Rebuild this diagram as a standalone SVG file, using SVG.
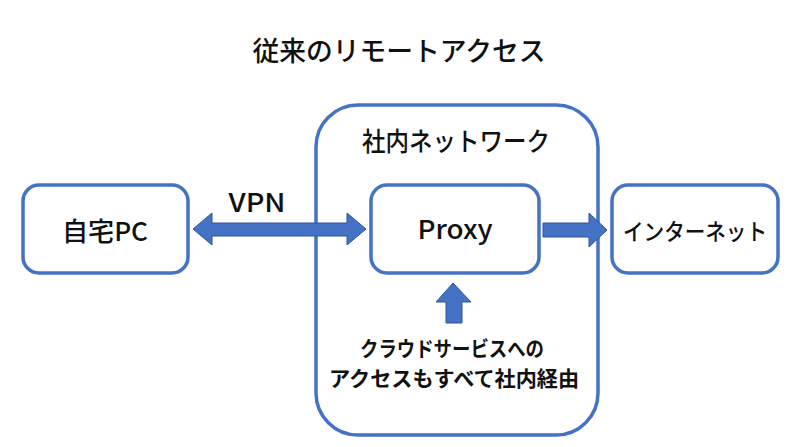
<svg xmlns="http://www.w3.org/2000/svg" width="800" height="447" viewBox="0 0 800 447">
<style>
.box{fill:#fff;stroke:#4472C4;stroke-width:3.5}
.arr{fill:#4472C4;stroke:#2F5597;stroke-width:1}
text{font-family:"Noto Sans CJK JP","Noto Sans",sans-serif;font-weight:500;fill:#111;text-anchor:middle}
.t{font-size:27px}
.l{font-size:26px}
.s{font-size:21px;font-weight:bold}
</style>
<rect width="800" height="447" fill="#fff"/>
<text class="t" x="399" y="61" textLength="293" lengthAdjust="spacingAndGlyphs">従来のリモートアクセス</text>
<g id="network">
<rect class="box" x="316" y="105" width="282" height="330" rx="42"/>
<text class="l" x="456" y="151" textLength="188" lengthAdjust="spacingAndGlyphs">社内ネットワーク</text>
</g>
<g id="home">
<rect class="box" x="23" y="185" width="165" height="88" rx="16"/>
<text class="l" x="105" y="241" textLength="86" lengthAdjust="spacingAndGlyphs">自宅PC</text>
</g>
<g id="proxy">
<rect class="box" x="371" y="185" width="168" height="88" rx="16"/>
<text class="l" x="455" y="239" textLength="75" lengthAdjust="spacingAndGlyphs">Proxy</text>
</g>
<g id="internet">
<rect class="box" x="612" y="185" width="166" height="88" rx="16"/>
<text x="695" y="240" style="font-size:23px" textLength="144" lengthAdjust="spacingAndGlyphs">インターネット</text>
</g>
<g id="connectors">
<polygon class="arr" points="193,229 212,213 212,223 347,223 347,213 366,229 347,245 347,236 212,236 212,245"/>
<text class="l" x="257" y="212" textLength="57" lengthAdjust="spacingAndGlyphs">VPN</text>
<polygon class="arr" points="543,223 589,223 589,213 607,230 589,247 589,237 543,237"/>
<polygon class="arr" points="453,283 471,302 462,302 462,323 446,323 446,302 436,302"/>
</g>
<g id="note">
<text class="s" x="452" y="356" textLength="184" lengthAdjust="spacingAndGlyphs">クラウドサービスへの</text>
<text class="s" x="454" y="386" textLength="250" lengthAdjust="spacingAndGlyphs">アクセスもすべて社内経由</text>
</g>
</svg>
